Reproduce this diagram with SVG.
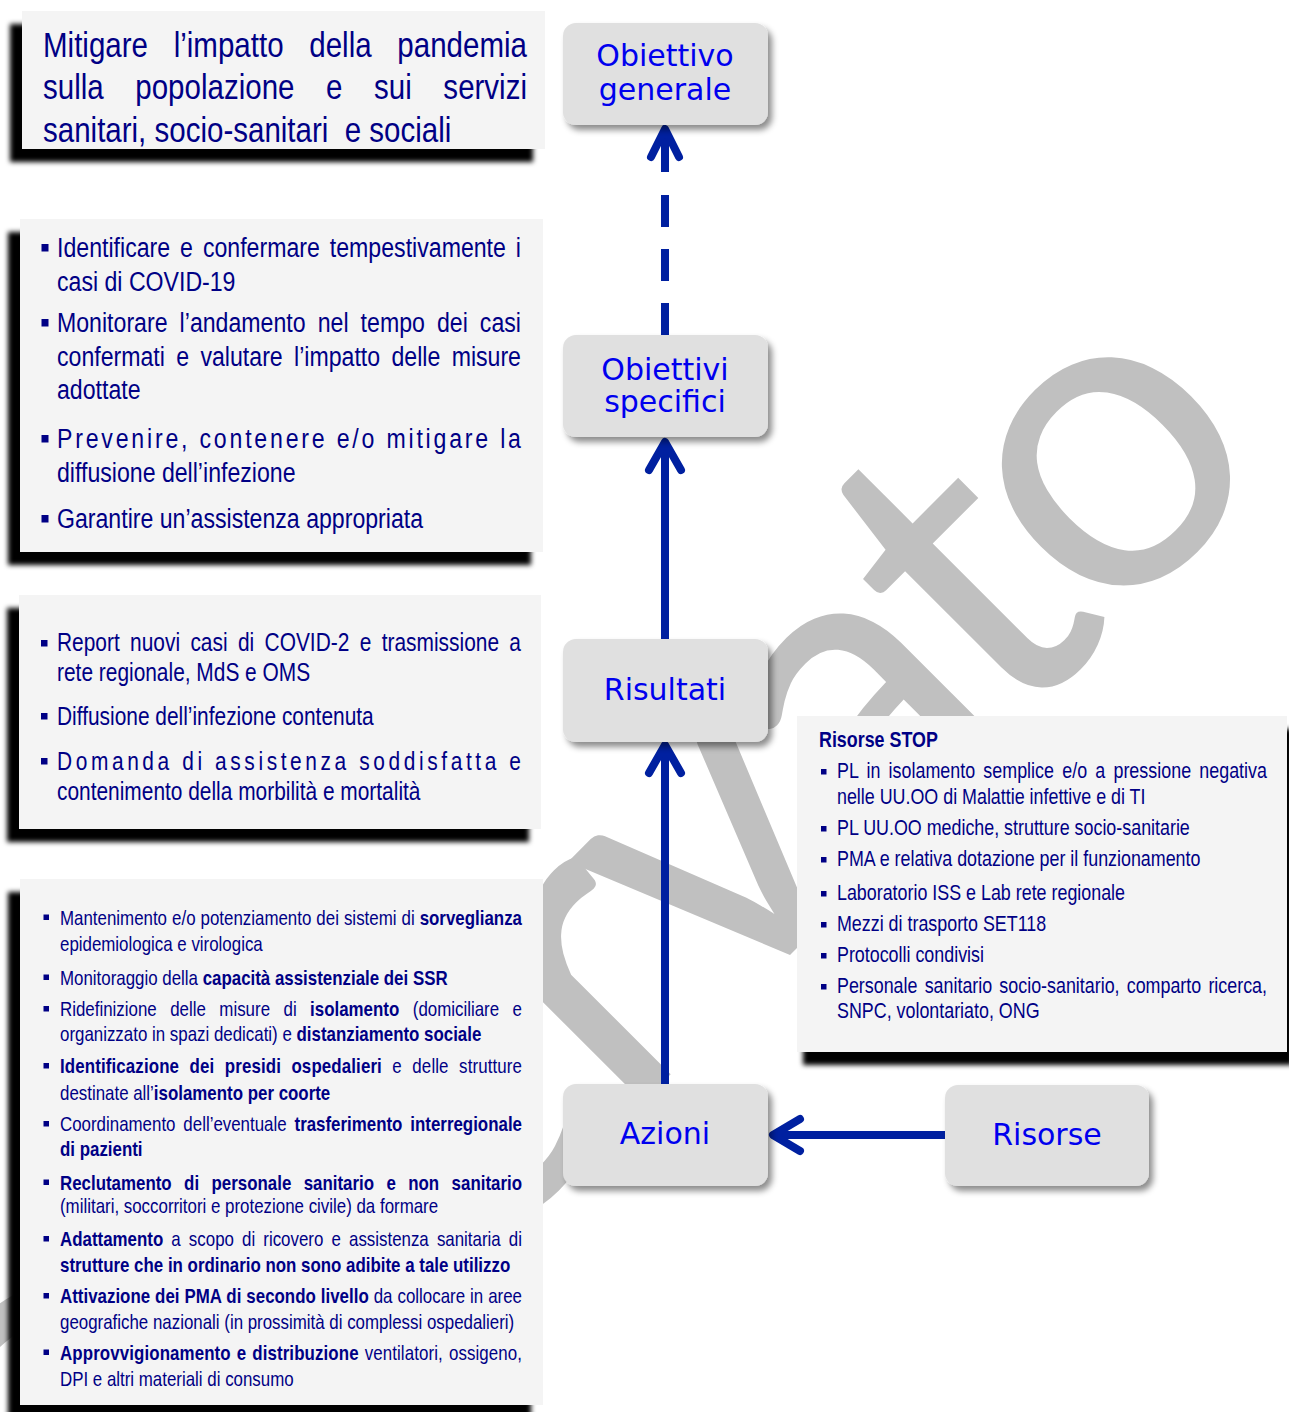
<svg xmlns="http://www.w3.org/2000/svg" width="1289" height="1412" viewBox="0 0 1289 1412">
<defs>
<style>
.box{fill:#f4f4f4}
.node{fill:#e0e0e0}
.nt{font-family:"DejaVu Sans",Verdana,sans-serif;font-size:30px;fill:#0000ee;text-anchor:middle}
.t{font-family:"Liberation Sans",Arial,sans-serif;fill:#000085}
.b{font-weight:bold}
.bul{fill:#000085}
.f1{font-size:36px}.f2{font-size:28.2px}.f3{font-size:25.5px}.f4{font-size:20.6px}.f5{font-size:21.8px}
.wm{font-family:Lato,"Liberation Sans",sans-serif;font-size:440px;letter-spacing:-17px;fill:#c0c0c0}
.conn{stroke:#0020a0;stroke-width:8;fill:none}
.head{stroke-linecap:round;stroke-linejoin:round}
</style>
<filter id="hard" x="-10%" y="-10%" width="120%" height="130%">
<feGaussianBlur in="SourceAlpha" stdDeviation="2.5"/>
<feOffset dx="-12" dy="13" result="o"/>
<feFlood flood-color="#000"/>
<feComposite in2="o" operator="in"/>
<feMerge><feMergeNode/><feMergeNode in="SourceGraphic"/></feMerge>
</filter>
<filter id="hardR" x="-10%" y="-10%" width="120%" height="130%">
<feGaussianBlur in="SourceAlpha" stdDeviation="2.5"/>
<feOffset dx="6" dy="13" result="o"/>
<feFlood flood-color="#000"/>
<feComposite in2="o" operator="in"/>
<feMerge><feMergeNode/><feMergeNode in="SourceGraphic"/></feMerge>
</filter>
<filter id="soft" x="-10%" y="-10%" width="130%" height="140%">
<feGaussianBlur in="SourceAlpha" stdDeviation="3"/>
<feOffset dx="4" dy="5" result="o"/>
<feFlood flood-color="#000" flood-opacity="0.45"/>
<feComposite in2="o" operator="in"/>
<feMerge><feMergeNode/><feMergeNode in="SourceGraphic"/></feMerge>
</filter>
</defs>
<rect width="1289" height="1412" fill="#ffffff"/>

<g id="watermark">
<text class="wm" transform="translate(1271,474) rotate(-45)" text-anchor="end">Riservato</text>
</g>

<g id="connectors">
<line class="conn" x1="665" y1="1084" x2="665" y2="750"/>
<polyline class="conn head" points="649,773 665,745 681,773"/>
<line class="conn" x1="665" y1="639" x2="665" y2="446"/>
<polyline class="conn head" points="649,470 665,442 681,470"/>
<line class="conn" x1="665" y1="335" x2="665" y2="173" stroke-dasharray="32 22"/>
<line class="conn" x1="665" y1="172" x2="665" y2="132"/>
<polyline class="conn head" points="651,157 665,129 679,157"/>
<line class="conn" x1="945" y1="1135" x2="777" y2="1135"/>
<polyline class="conn head" points="800,1119 773,1135 800,1151"/>
</g>

<g id="n-obiettivo-generale">
<rect class="node" x="563" y="23" width="205" height="102" rx="13" filter="url(#soft)"/>
<text class="nt" x="665" y="66">Obiettivo</text>
<text class="nt" x="665" y="99.5">generale</text>
</g>
<g id="n-obiettivi-specifici">
<rect class="node" x="563" y="335" width="205" height="102" rx="13" filter="url(#soft)"/>
<text class="nt" x="665" y="380">Obiettivi</text>
<text class="nt" x="665" y="412">specifici</text>
</g>
<g id="n-risultati">
<rect class="node" x="563" y="639" width="205" height="103" rx="13" filter="url(#soft)"/>
<text class="nt" x="665" y="700">Risultati</text>
</g>
<g id="n-azioni">
<rect class="node" x="563" y="1084" width="205" height="102" rx="13" filter="url(#soft)"/>
<text class="nt" x="665" y="1144">Azioni</text>
</g>
<g id="n-risorse">
<rect class="node" x="945" y="1085" width="204" height="101" rx="13" filter="url(#soft)"/>
<text class="nt" x="1047" y="1145">Risorse</text>
</g>

<g id="box-obiettivo-generale">
<rect class="box" x="22" y="11" width="523" height="138" filter="url(#hard)"/>
<g transform="scale(0.82 1)" class="t f1">
<text x="52.44" y="57" word-spacing="21.3" textLength="590.24" lengthAdjust="spacing">Mitigare l’impatto della pandemia</text>
<text x="52.44" y="99.5" word-spacing="28.5" textLength="590.24" lengthAdjust="spacing">sulla popolazione e sui servizi</text>
<text x="52.44" y="142" xml:space="preserve">sanitari, socio-sanitari  e sociali</text>
</g>
</g>

<g id="box-obiettivi-specifici">
<rect class="box" x="20" y="219" width="523" height="333" filter="url(#hard)"/>
<rect class="bul" x="41.5" y="244" width="7" height="7.5"/>
<rect class="bul" x="41.5" y="319" width="7" height="7.5"/>
<rect class="bul" x="41.5" y="435" width="7" height="7.5"/>
<rect class="bul" x="41.5" y="515" width="7" height="7.5"/>
<g transform="scale(0.82 1)" class="t f2">
<text x="69.51" y="257" word-spacing="4.3" textLength="565.85" lengthAdjust="spacing">Identificare e confermare tempestivamente i</text>
<text x="69.51" y="291">casi di COVID-19</text>
<text x="69.51" y="332" word-spacing="6.9" textLength="565.85" lengthAdjust="spacing">Monitorare l’andamento nel tempo dei casi</text>
<text x="69.51" y="366" word-spacing="6" textLength="565.85" lengthAdjust="spacing">confermati e valutare l’impatto delle misure</text>
<text x="69.51" y="399">adottate</text>
<text x="69.51" y="448" textLength="565.85" lengthAdjust="spacing">Prevenire, contenere e/o mitigare la</text>
<text x="69.51" y="482">diffusione dell’infezione</text>
<text x="69.51" y="528">Garantire un’assistenza appropriata</text>
</g>
</g>

<g id="box-risultati">
<rect class="box" x="19" y="595" width="522" height="234" filter="url(#hard)"/>
<rect class="bul" x="41" y="640" width="6.5" height="6.5"/>
<rect class="bul" x="41" y="713" width="6.5" height="6.5"/>
<rect class="bul" x="41" y="758" width="6.5" height="6.5"/>
<g transform="scale(0.82 1)" class="t f3">
<text x="69.51" y="651.5" word-spacing="5.5" textLength="565.85" lengthAdjust="spacing">Report nuovi casi di COVID-2 e trasmissione a</text>
<text x="69.51" y="681.5">rete regionale, MdS e OMS</text>
<text x="69.51" y="725">Diffusione dell’infezione contenuta</text>
<text x="69.51" y="770" textLength="565.85" lengthAdjust="spacing">Domanda di assistenza soddisfatta e</text>
<text x="69.51" y="800.5">contenimento della morbilità e mortalità</text>
</g>
</g>

<g id="box-azioni">
<rect class="box" x="20" y="879" width="523" height="526" filter="url(#hard)"/>
<rect class="bul" x="43.5" y="914.5" width="5.5" height="5.5"/>
<rect class="bul" x="43.5" y="974.5" width="5.5" height="5.5"/>
<rect class="bul" x="43.5" y="1006" width="5.5" height="5.5"/>
<rect class="bul" x="43.5" y="1063" width="5.5" height="5.5"/>
<rect class="bul" x="43.5" y="1121" width="5.5" height="5.5"/>
<rect class="bul" x="43.5" y="1179.5" width="5.5" height="5.5"/>
<rect class="bul" x="43.5" y="1236" width="5.5" height="5.5"/>
<rect class="bul" x="43.5" y="1293" width="5.5" height="5.5"/>
<rect class="bul" x="43.5" y="1349.5" width="5.5" height="5.5"/>
<g transform="scale(0.82 1)" class="t f4">
<text x="73.17" y="925" word-spacing="0.4" textLength="563.41" lengthAdjust="spacing">Mantenimento e/o potenziamento dei sistemi di <tspan class="b">sorveglianza</tspan></text>
<text x="73.17" y="951.5">epidemiologica e virologica</text>
<text x="73.17" y="985">Monitoraggio della <tspan class="b">capacità assistenziale dei SSR</tspan></text>
<text x="73.17" y="1016.5" word-spacing="10.7" textLength="563.41" lengthAdjust="spacing">Ridefinizione delle misure di <tspan class="b">isolamento</tspan> (domiciliare e</text>
<text x="73.17" y="1041.5">organizzato in spazi dedicati) e <tspan class="b">distanziamento sociale</tspan></text>
<text x="73.17" y="1073.5" word-spacing="6.9" textLength="563.41" lengthAdjust="spacing"><tspan class="b">Identificazione dei presidi ospedalieri</tspan> e delle strutture</text>
<text x="73.17" y="1100">destinate all’<tspan class="b">isolamento per coorte</tspan></text>
<text x="73.17" y="1131.5" word-spacing="3.9" textLength="563.41" lengthAdjust="spacing">Coordinamento dell’eventuale <tspan class="b">trasferimento interregionale</tspan></text>
<text x="73.17" y="1156.5" class="b">di pazienti</text>
<text x="73.17" y="1190" class="b" word-spacing="9.4" textLength="563.41" lengthAdjust="spacing">Reclutamento di personale sanitario e non sanitario</text>
<text x="73.17" y="1213.5">(militari, soccorritori e protezione civile) da formare</text>
<text x="73.17" y="1246.5" word-spacing="4.2" textLength="563.41" lengthAdjust="spacing"><tspan class="b">Adattamento</tspan> a scopo di ricovero e assistenza sanitaria di</text>
<text x="73.17" y="1272.5" class="b">strutture che in ordinario non sono adibite a tale utilizzo</text>
<text x="73.17" y="1303.5" word-spacing="0.3" textLength="563.41" lengthAdjust="spacing"><tspan class="b">Attivazione dei PMA di secondo livello</tspan> da collocare in aree</text>
<text x="73.17" y="1329.5">geografiche nazionali (in prossimità di complessi ospedalieri)</text>
<text x="73.17" y="1360" word-spacing="1.5" textLength="563.41" lengthAdjust="spacing"><tspan class="b">Approvvigionamento e distribuzione</tspan> ventilatori, ossigeno,</text>
<text x="73.17" y="1386">DPI e altri materiali di consumo</text>
</g>
</g>

<g id="box-risorse-stop">
<rect class="box" x="797" y="716" width="490" height="336" filter="url(#hardR)"/>
<rect class="bul" x="821" y="769" width="5.5" height="5.5"/>
<rect class="bul" x="821" y="826" width="5.5" height="5.5"/>
<rect class="bul" x="821" y="857" width="5.5" height="5.5"/>
<rect class="bul" x="821" y="891" width="5.5" height="5.5"/>
<rect class="bul" x="821" y="922" width="5.5" height="5.5"/>
<rect class="bul" x="821" y="953" width="5.5" height="5.5"/>
<rect class="bul" x="821" y="984" width="5.5" height="5.5"/>
<g transform="scale(0.82 1)" class="t f5">
<text x="998.78" y="747.5" class="b">Risorse STOP</text>
<text x="1020.73" y="778" word-spacing="3.9" textLength="524.39" lengthAdjust="spacing">PL in isolamento semplice e/o a pressione negativa</text>
<text x="1020.73" y="804">nelle UU.OO di Malattie infettive e di TI</text>
<text x="1020.73" y="835">PL UU.OO mediche, strutture socio-sanitarie</text>
<text x="1020.73" y="866">PMA e relativa dotazione per il funzionamento</text>
<text x="1020.73" y="900">Laboratorio ISS e Lab rete regionale</text>
<text x="1020.73" y="931">Mezzi di trasporto SET118</text>
<text x="1020.73" y="962">Protocolli condivisi</text>
<text x="1020.73" y="993" word-spacing="2.7" textLength="524.39" lengthAdjust="spacing">Personale sanitario socio-sanitario, comparto ricerca,</text>
<text x="1020.73" y="1018">SNPC, volontariato, ONG</text>
</g>
</g>
</svg>
